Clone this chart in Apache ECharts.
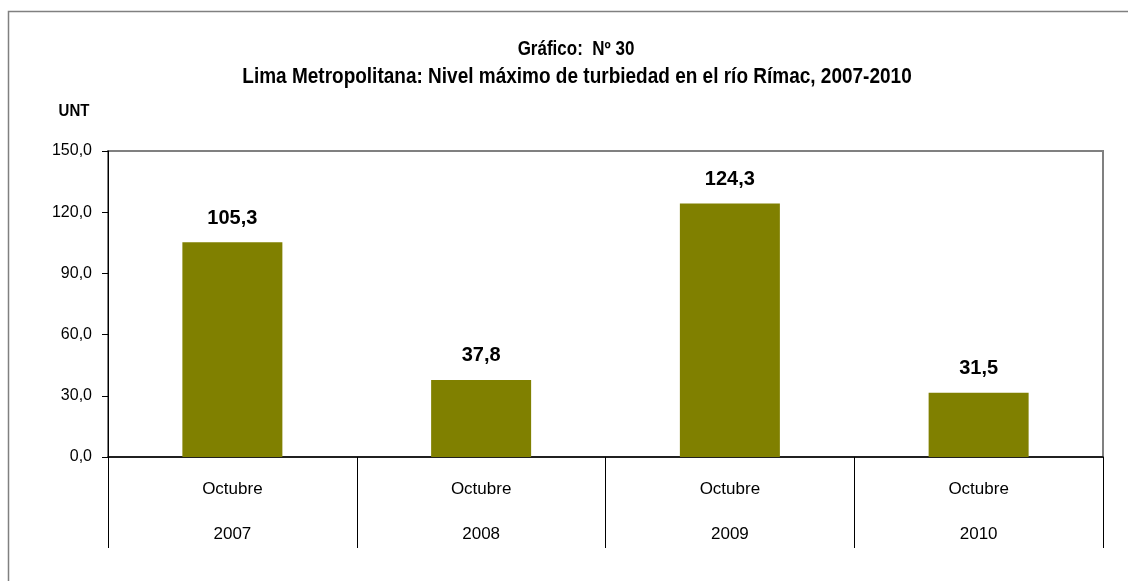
<!DOCTYPE html>
<html>
<head>
<meta charset="utf-8">
<script src="https://cdn.jsdelivr.net/npm/echarts@6/dist/echarts.min.js"></script>
<style>
html,body{margin:0;padding:0;background:#fff;}
#chart{width:1128px;height:581px;}
</style>
</head>
<body>
<div id="chart"></div>
<script>
var titleLine1 = 'Gráfico:  Nº 30';
var titleLine2 = 'Lima Metropolitana: Nivel máximo de turbiedad en el río Rímac, 2007-2010';
var unitLabel = 'UNT';
var months = ['Octubre', 'Octubre', 'Octubre', 'Octubre'];
var years = ['2007', '2008', '2009', '2010'];
var values = [105.3, 37.8, 124.3, 31.5];
var yMin = 0, yMax = 150, yStep = 30;

function fmt(v){ return Number(v).toFixed(1).replace('.', ','); }

var FONT = '"Liberation Sans", Arial, sans-serif';
var categories = months.map(function(m, i){ return m + '\n' + years[i]; });

var chart = echarts.init(document.getElementById('chart'), null, {renderer:'canvas'});
chart.setOption({
  animation: false,
  backgroundColor: '#ffffff',
  textStyle: { fontFamily: FONT },
  grid: {
    left: 108, right: 25, top: 151, bottom: 124,
    show: true, borderColor: '#808080', borderWidth: 2, backgroundColor: 'transparent'
  },
  graphic: [
    { type: 'rect', silent: true, z: -1,
      shape: { x: 8.5, y: 11.5, width: 1300, height: 700 },
      style: { fill: null, stroke: '#808080', lineWidth: 1.5 } },
    { type: 'text', x: 576, y: 50, scaleY: 1.15,
      style: { text: titleLine1, font: 'bold 17px ' + FONT,
               fill: '#000', textAlign: 'center', textVerticalAlign: 'middle' } },
    { type: 'text', x: 577, y: 77, scaleY: 1.15,
      style: { text: titleLine2, font: 'bold 19px ' + FONT,
               fill: '#000', textAlign: 'center', textVerticalAlign: 'middle' } },
    { type: 'text', x: 74, y: 111, scaleY: 1.1,
      style: { text: unitLabel, font: 'bold 15px ' + FONT,
               fill: '#000', textAlign: 'center', textVerticalAlign: 'middle' } }
  ],
  xAxis: {
    type: 'category',
    data: categories,
    boundaryGap: true,
    axisLine: { show: true, lineStyle: { color: '#000', width: 1.5 } },
    axisTick: { show: true, length: 91, lineStyle: { color: '#000', width: 1 } },
    axisLabel: { color: '#000', fontSize: 17, lineHeight: 45, margin: 10, interval: 0 },
    splitLine: { show: false }
  },
  yAxis: {
    type: 'value',
    min: yMin, max: yMax, interval: yStep,
    axisLine: { show: true, lineStyle: { color: '#000', width: 1 } },
    axisTick: { show: true, length: 6, lineStyle: { color: '#000' } },
    axisLabel: { color: '#000', fontSize: 16, margin: 16, formatter: fmt },
    splitLine: { show: false }
  },
  series: [{
    type: 'bar',
    data: values,
    barWidth: 100,
    itemStyle: { color: '#808000' },
    label: {
      show: true, position: 'top', distance: 14,
      color: '#000', fontSize: 20, fontWeight: 'bold',
      formatter: function(p){ return fmt(p.value); }
    }
  }]
});
</script>
</body>
</html>
